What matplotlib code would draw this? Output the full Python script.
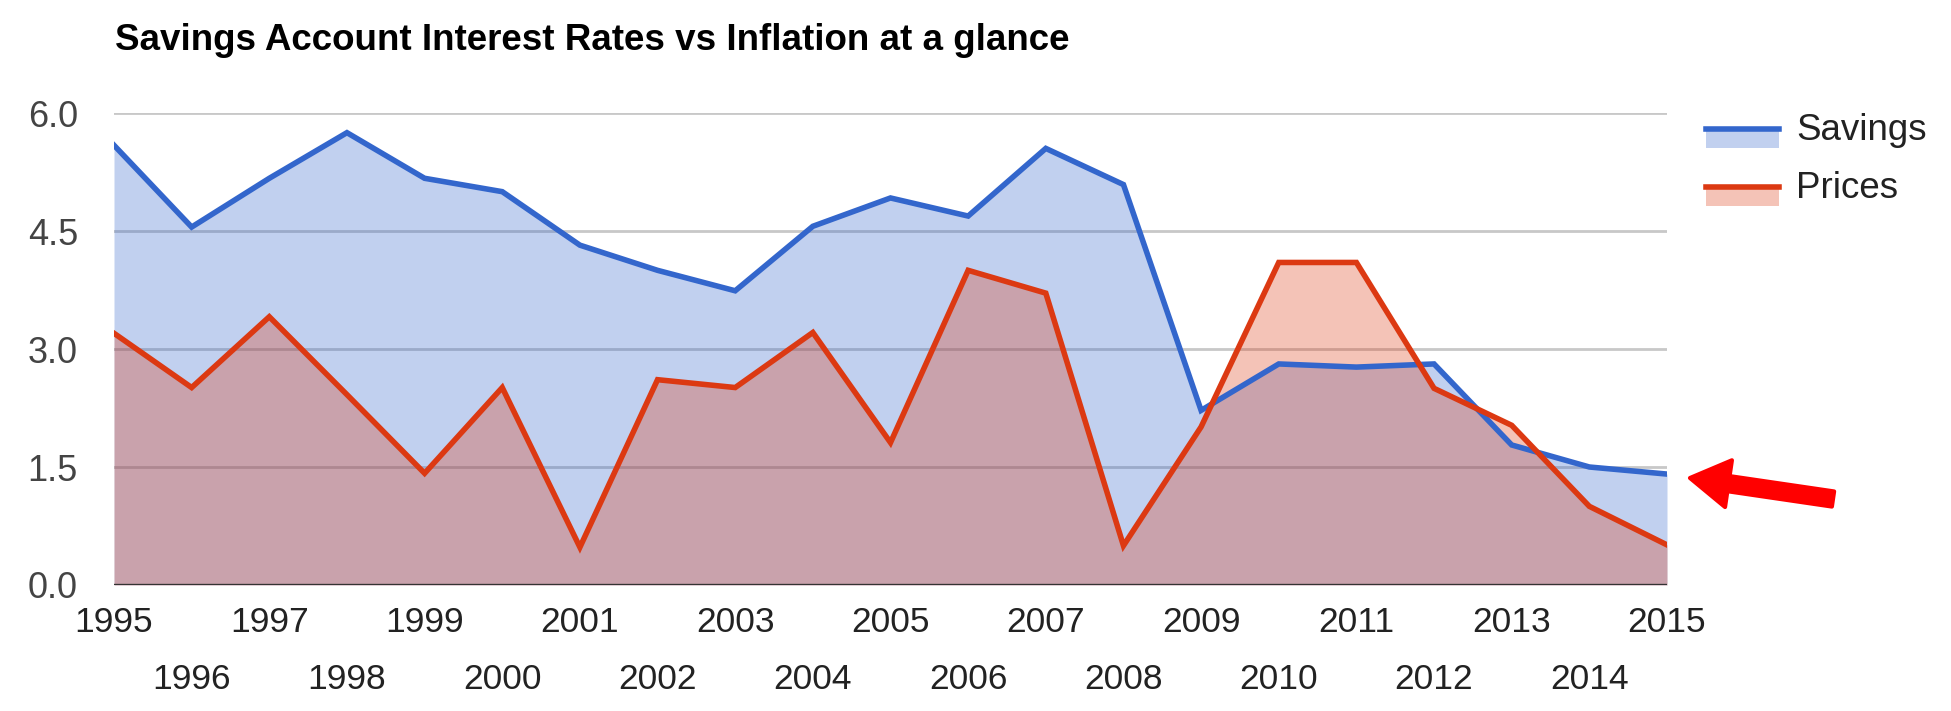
import matplotlib
matplotlib.use("Agg")
import matplotlib.pyplot as plt
from matplotlib.patches import Rectangle
from matplotlib.lines import Line2D

years = list(range(1995, 2016))
savings = [5.59, 4.55, 5.17, 5.75, 5.17, 5.00, 4.32, 4.00, 3.74, 4.56, 4.92,
           4.69, 5.55, 5.09, 2.22, 2.81, 2.77, 2.81, 1.78, 1.50, 1.41]
prices = [3.20, 2.51, 3.41, 2.42, 1.42, 2.51, 0.48, 2.61, 2.51, 3.21, 1.81,
          4.00, 3.71, 0.50, 2.01, 4.10, 4.10, 2.50, 2.03, 1.00, 0.51]
yticks = [0.0, 1.5, 3.0, 4.5, 6.0]
series_names = ["Savings", "Prices"]
title = "Savings Account Interest Rates vs Inflation at a glance"

BLUE = "#3366CC"
RED = "#DC3912"
W, H = 1951, 711

plt.rcParams['font.family'] = ['Liberation Sans', 'DejaVu Sans']
fig = plt.figure(figsize=(W / 100, H / 100), dpi=100)
L, R, T, B = 114, 1667, 113, 585
ax = fig.add_axes([L / W, 1 - B / H, (R - L) / W, (B - T) / H])

ax.set_xlim(1995, 2015)
ax.set_ylim(0, 6)
for s in ax.spines.values():
    s.set_visible(False)

for yv in yticks[1:]:
    ax.axhline(yv, color="#c8c8c8", lw=2.0, zorder=0)

ax.fill_between(years, savings, 0, color=BLUE, alpha=0.3, lw=0, zorder=1)
ax.fill_between(years, prices, 0, color=RED, alpha=0.3, lw=0, zorder=2)
ax.plot(years, savings, color=BLUE, lw=4.0, zorder=3, solid_joinstyle='miter')
ax.plot(years, prices, color=RED, lw=4.0, zorder=4, solid_joinstyle='miter')
ax.axhline(0, color="#333333", lw=2.4, zorder=5)

ax.set_yticks(yticks)
ax.set_yticklabels([f"{v:.1f}" for v in yticks])
odd = [y for y in years if (y - 1995) % 2 == 0]
even = [y for y in years if (y - 1995) % 2 == 1]
ax.set_xticks(odd)
ax.set_xticklabels([str(y) for y in odd])
ax.set_xticks(even, minor=True)
ax.set_xticklabels([str(y) for y in even], minor=True)
ax.tick_params(axis='y', length=0, pad=26, labelsize=26, labelcolor="#444444")
ax.tick_params(axis='x', which='major', length=0, pad=15, labelsize=25.5, labelcolor="#222222")
ax.tick_params(axis='x', which='minor', length=0, pad=56, labelsize=25.5, labelcolor="#222222")

fig.text(115 / W, 1 - 50 / H, title, fontsize=26.5, fontweight='bold',
         color="#000000", ha='left', va='baseline')

# legend
colors = [BLUE, RED]
rows = [129, 187]
for name, c, yl in zip(series_names, colors, rows):
    fig.add_artist(Rectangle((1706 / W, 1 - (yl + 19) / H), 73 / W, 19 / H,
                             transform=fig.transFigure, facecolor=c, alpha=0.3, lw=0))
    fig.add_artist(Line2D([1706 / W, 1779 / W], [1 - yl / H, 1 - yl / H],
                          transform=fig.transFigure, color=c, lw=4.0))
    fig.text(1796 / W, 1 - (yl + 2) / H, name, fontsize=26.5, color="#222222",
             ha='left', va='center')

# red arrow annotation
ax.annotate("", xy=(1690, H - 478), xytext=(1833, H - 499),
            xycoords='figure pixels', textcoords='figure pixels',
            arrowprops=dict(arrowstyle="simple,head_length=1.4,head_width=1.7,tail_width=0.55",
                            mutation_scale=20, facecolor="#ff0000", edgecolor="#ff0000",
                            lw=3, joinstyle='round', capstyle='round',
                            shrinkA=0, shrinkB=0))

fig.savefig("out.png", dpi=100)
